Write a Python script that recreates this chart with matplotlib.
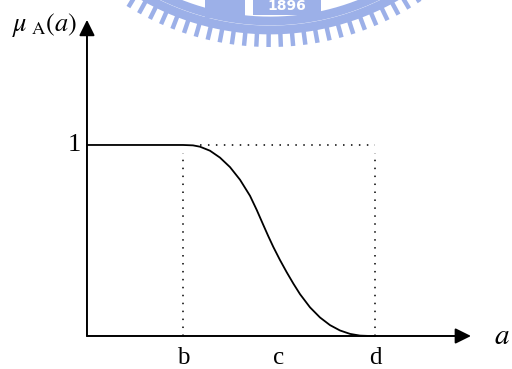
import numpy as np
import matplotlib
matplotlib.use("Agg")
import matplotlib.pyplot as plt
from matplotlib.patches import FancyArrowPatch, Rectangle

plt.rcParams['mathtext.fontset'] = 'stix'

# membership curve mu_A(a) (b=1, c=2, d=3)
curve_x = [0.0, 1.0, 1.104, 1.177, 1.281, 1.385, 1.490, 1.594, 1.698, 1.768,
           1.836, 1.889, 1.941, 2.010, 2.080, 2.150, 2.219, 2.323, 2.427,
           2.531, 2.635, 2.740, 2.844, 2.948, 3.0]
curve_y = [1.0, 1.0, 0.998, 0.991, 0.970, 0.934, 0.884, 0.818, 0.734, 0.660,
           0.582, 0.522, 0.466, 0.398, 0.334, 0.274, 0.219, 0.150, 0.097,
           0.057, 0.029, 0.011, 0.002, 0.0, 0.0]

tick_names = ['b', 'c', 'd']
tick_pos = [1, 2, 3]
one_level = 1.0

fig = plt.figure(figsize=(5.12, 3.69), dpi=100)

# faint school logo watermark at the top (pixel coords)
wm = fig.add_axes([0, 0, 1, 1])
wm.set_xlim(0, 512)
wm.set_ylim(369, 0)
wm.axis('off')
blue = '#9cb0e8'
cx, cy = 270, -224
th = np.linspace(np.radians(55), np.radians(125), 200)
for r0, r1 in [(242, 248), (251, 257)]:
    for r in np.linspace(r0, r1, 4):
        wm.plot(cx + r * np.cos(th), cy + r * np.sin(th), color=blue, lw=2.0,
                solid_capstyle='butt', zorder=1)
for ang in np.arange(56.5, 124, 2.6):
    a = np.radians(ang)
    wm.plot([cx + 257 * np.cos(a), cx + 271 * np.cos(a)],
            [cy + 257 * np.sin(a), cy + 271 * np.sin(a)],
            color=blue, lw=3.2, solid_capstyle='butt', zorder=1)
wm.add_patch(Rectangle((253, -2), 68, 17, color=blue, lw=0, zorder=1))
wm.text(287, 6, '1896', color='white', fontsize=10, ha='center', va='center',
        fontweight='bold', zorder=2)
wm.add_patch(Rectangle((205, -2), 40, 20, color=blue, lw=0, zorder=1))

ax = fig.add_axes([0, 0, 1, 1])
ax.patch.set_alpha(0)
ax.set_xlim(-0.906, 4.427)
ax.set_ylim(-0.1728, 1.759)
ax.axis('off')

# axes with arrows
for start, end in [((0, 0), (4.0, 0)), ((0, 0), (0, 1.655))]:
    ax.add_patch(FancyArrowPatch(start, end, arrowstyle='-|>,head_length=0.95,head_width=0.47',
                                 mutation_scale=10, color='black', lw=1.4,
                                 shrinkA=0, shrinkB=0, zorder=3))

# dotted guide lines
ax.plot([tick_pos[0] + 0.18, tick_pos[2]], [one_level, one_level], color='black',
        lw=1.1, linestyle=(0, (1, 4.2)))
for xp in [tick_pos[0], tick_pos[2]]:
    ax.plot([xp, xp], [0, one_level - 0.04], color='black', lw=1.1,
            linestyle=(0, (1, 4.2)))

ax.plot(curve_x, curve_y, color='black', lw=1.3, zorder=4,
        solid_joinstyle='round', solid_capstyle='round')

serif = 'Liberation Serif'
for name, xp in zip(tick_names, tick_pos):
    ax.text(xp, -0.115, name, family=serif, fontsize=18, ha='center', va='center')
ax.text(-0.13, one_level, '1', family=serif, fontsize=19, ha='center', va='center')
ax.text(4.32, 0.0, r'$a$', fontsize=21, ha='center', va='center')
ax.text(-0.44, 1.628, r'$\mu_{\ \mathrm{A}}(a)$', fontsize=19, ha='center', va='center')

fig.savefig('out.png', dpi=100)
